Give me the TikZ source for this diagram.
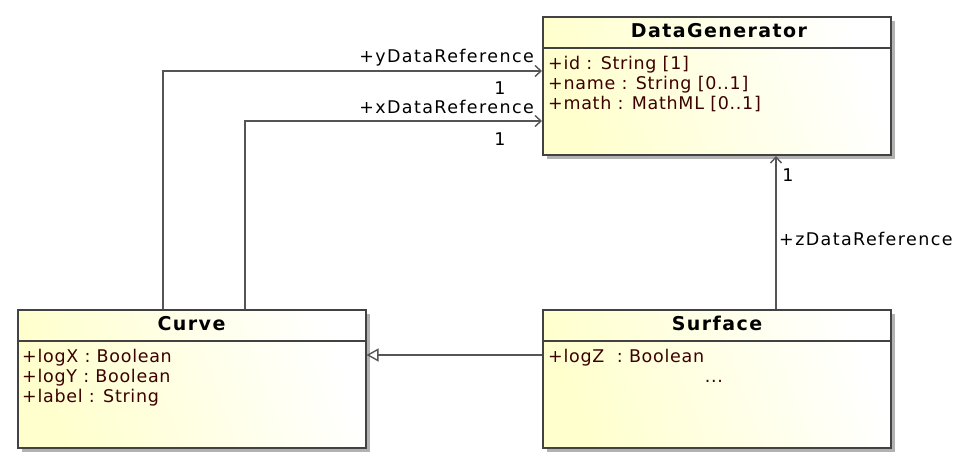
\documentclass[tikz,border=0pt]{standalone}
\usepackage{fontspec}
\setmainfont{DejaVu Sans}
\newfontfamily\attrfont[LetterSpace=4]{DejaVu Sans}
\newfontfamily\rolefont[LetterSpace=8]{DejaVu Sans}
\newfontfamily\titlefont[LetterSpace=7.5]{DejaVu Sans}
\usetikzlibrary{arrows.meta,shadows}

\definecolor{umlyellow}{RGB}{255,255,205}
\definecolor{boxline}{RGB}{66,66,66}
\definecolor{linegray}{RGB}{85,85,85}
\definecolor{shadowgray}{RGB}{178,178,178}
\definecolor{attrtext}{RGB}{60,0,0}

\tikzset{
	classbox/.style={draw=boxline, line width=2pt, inner sep=0pt,
		minimum width=348pt, minimum height=138pt,
		left color=umlyellow, right color=white, shading angle=110,
		drop shadow={shadow xshift=4pt, shadow yshift=-4pt, fill=shadowgray, opacity=1}},
	classname/.style={font=\titlefont\bfseries\fontsize{19}{20}\selectfont, inner sep=0pt, anchor=base},
	attr/.style={font=\attrfont\fontsize{17.5}{20}\selectfont, text=attrtext, inner sep=0pt, anchor=base west},
	rolename/.style={font=\rolefont\fontsize{17.5}{20}\selectfont, inner sep=0pt},
	assoc/.style={draw=linegray, line width=1.4pt, -{Straight Barb[length=6pt, width=11pt]}},
	generalization/.style={draw=linegray, line width=1.4pt, -{Triangle[open, length=12pt, width=13pt, fill=white]}},
	separator/.style={draw=boxline, line width=1.5pt}
}

\begin{document}
\begin{tikzpicture}[x=1pt, y=-1pt]

	\useasboundingbox (0,0) rectangle (977,466);

	% ---- class boxes

	\node[classbox] (dg) at (717,86) {};
	\node[classbox] (curve) at (191.5,379) {};
	\node[classbox] (surface) at (717,379) {};

	% ---- header lines

	\draw[separator] (dg.west |- 0,48) -- (dg.east |- 0,48);
	\draw[separator] (curve.west |- 0,341) -- (curve.east |- 0,341);
	\draw[separator] (surface.west |- 0,341) -- (surface.east |- 0,341);

	% ---- class names

	\node[classname] (dgtitle) at (719,37) {DataGenerator};
	\node[classname] (curvetitle) at (191.5,330) {Curve};
	\node[classname] (surfacetitle) at (717,330) {Surface};

	% ---- attributes

	\node[attr] (dgid) at (548,69) {+id : String [1]};
	\node[attr] (dgname) at (548,89) {+name : String [0..1]};
	\node[attr] (dgmath) at (548,109) {+math : MathML [0..1]};

	\node[attr] (logx) at (22,362) {+logX : Boolean};
	\node[attr] (logy) at (22,382) {+logY : Boolean};
	\node[attr] (label) at (22,402) {+label : String};

	\node[attr] (logz) at (548,362) {+logZ\ \ : Boolean};
	\node[attr, anchor=base] (more) at (714,382) {...};

	% ---- associations

	\draw[assoc] (curve.north -| 163,0) |- (dg.west |- 0,71);
	\draw[assoc] (curve.north -| 245,0) |- (dg.west |- 0,121);
	\draw[assoc] (surface.north -| 776,0) -- (dg.south -| 776,0);

	% ---- generalization

	\draw[generalization] (surface.west |- 0,355) -- (curve.east |- 0,355);

	% ---- role names and multiplicities

	\node[rolename, anchor=base east] (yrole) at (534,62) {+yDataReference};
	\node[rolename, anchor=base] (ymult) at (500,94) {1};
	\node[rolename, anchor=base east] (xrole) at (534,113) {+xDataReference};
	\node[rolename, anchor=base] (xmult) at (500,145) {1};
	\node[rolename, anchor=base] (zmult) at (788,181) {1};
	\node[rolename, anchor=base west] (zrole) at (779,245) {+zDataReference};

\end{tikzpicture}
\end{document}
